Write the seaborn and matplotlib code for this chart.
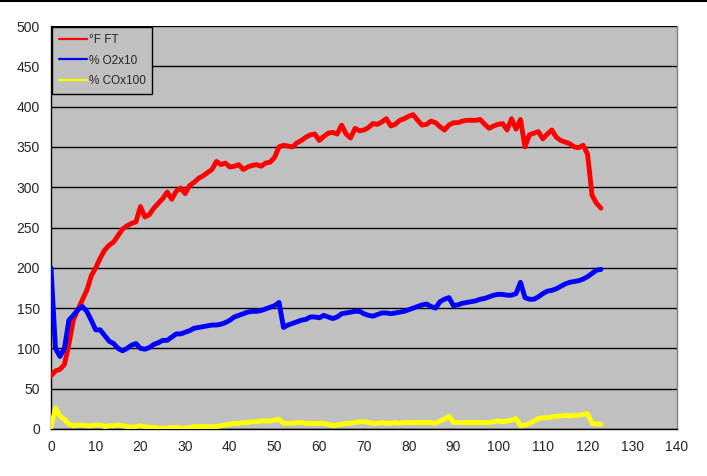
import numpy as np
import pandas as pd
import matplotlib
matplotlib.use("Agg")
import matplotlib.pyplot as plt
from matplotlib.lines import Line2D
import seaborn as sns

# minutes
minutes = list(range(0, 124))

# flue temperature, deg F
temp_f = [66, 72, 74, 80, 105, 135, 148, 160, 172, 190,
          200, 212, 222, 228, 232, 240, 248, 252, 255, 257,
          276, 263, 266, 274, 280, 286, 294, 285, 295, 299,
          292, 302, 306, 311, 314, 318, 322, 332, 328, 330,
          325, 326, 328, 322, 325, 327, 328, 326, 330, 331,
          337, 350, 352, 351, 350, 355, 358, 362, 365, 366,
          358, 363, 367, 368, 366, 377, 366, 361, 373, 370,
          371, 374, 379, 378, 381, 385, 376, 378, 383, 385,
          388, 390, 383, 377, 378, 382, 380, 375, 371, 377,
          380, 380, 382, 383, 383, 383, 384, 378, 373, 376,
          378, 379, 371, 385, 372, 384, 350, 365, 367, 369,
          360, 366, 371, 362, 358, 356, 354, 350, 349, 352,
          341, 290, 280, 274]

# oxygen % x10
o2_x10 = [200, 100, 90, 100, 135, 141, 148, 152, 146, 135,
          123, 123, 116, 109, 106, 100, 97, 100, 104, 106,
          100, 99, 101, 105, 107, 110, 110, 114, 118, 118,
          120, 122, 125, 126, 127, 128, 129, 129, 130, 132,
          135, 139, 141, 143, 145, 146, 146, 147, 149, 151,
          153, 157, 126, 129, 131, 133, 135, 136, 139, 139,
          138, 141, 139, 137, 139, 143, 144, 145, 146, 146,
          143, 141, 140, 142, 144, 144, 143, 144, 145, 146,
          148, 150, 152, 154, 155, 152, 150, 158, 161, 163,
          153, 154, 156, 157, 158, 159, 161, 162, 164, 166,
          167, 167, 166, 166, 168, 182, 163, 161, 161, 164,
          168, 171, 172, 174, 177, 180, 182, 183, 184, 186,
          189, 193, 197, 198]

# CO % x100
co_x100 = [2, 26, 16, 12, 6, 4, 5, 5, 4, 4,
           5, 5, 3, 4, 4, 5, 4, 3, 2, 3,
           4, 3, 2, 2, 1, 1, 1, 2, 2, 1,
           1, 2, 3, 3, 3, 3, 3, 3, 4, 5,
           6, 7, 7, 8, 8, 9, 9, 10, 10, 10,
           11, 12, 7, 7, 7, 8, 8, 7, 7, 7,
           7, 7, 6, 4, 5, 6, 7, 7, 8, 9,
           9, 8, 7, 7, 8, 7, 7, 8, 7, 8,
           8, 8, 8, 8, 8, 8, 7, 10, 12, 16,
           8, 8, 8, 8, 8, 8, 8, 8, 8, 9,
           10, 9, 10, 11, 13, 4, 5, 7, 10, 13,
           14, 14, 15, 16, 16, 17, 16, 17, 17, 18,
           19, 7, 6, 6]

series_names = ["°F FT", "% O2x10", "% COx100"]
colors = ["#FF0000", "#0000FF", "#FFFF00"]

df = pd.concat([
    pd.DataFrame({"min": minutes, "value": temp_f, "series": series_names[0]}),
    pd.DataFrame({"min": minutes, "value": o2_x10, "series": series_names[1]}),
    pd.DataFrame({"min": minutes, "value": co_x100, "series": series_names[2]}),
])

sns.set_style("white", {"axes.facecolor": "#C0C0C0"})
plt.rcParams["font.family"] = ["Liberation Sans", "DejaVu Sans"]

fig = plt.figure(figsize=(7.07, 4.76), dpi=100)
ax = fig.add_axes([51 / 707, 1 - 429 / 476, 626 / 707, 403 / 476])

sns.lineplot(data=df, x="min", y="value", hue="series", hue_order=series_names,
             palette=colors, linewidth=3.5, legend=False, ax=ax, zorder=3)

ax.set_xlim(0, 140)
ax.set_ylim(0, 500)
ax.set_xticks(range(0, 141, 10))
ax.set_yticks(range(0, 501, 50))
ax.tick_params(axis="both", direction="out", length=5, width=1, color="black",
               labelsize=10, pad=3)
ax.yaxis.grid(True, color="black", linewidth=1)
ax.set_axisbelow(True)
ax.set_xlabel("")
ax.set_ylabel("")
for side in ["left", "bottom"]:
    ax.spines[side].set_color("black")
    ax.spines[side].set_linewidth(1)
ax.spines["top"].set_visible(False)
ax.spines["right"].set_color("#808080")
ax.spines["right"].set_linewidth(1)

handles = [Line2D([0], [0], color=c, linewidth=1.6) for c in colors]
leg = ax.legend(handles, series_names, loc="upper left", bbox_to_anchor=(0.0, 1.0),
                frameon=True, fancybox=False, framealpha=1, edgecolor="black",
                fontsize=8.5, handlelength=2.4, handletextpad=0.15,
                labelspacing=0.75, borderpad=0.55, borderaxespad=0.1)
leg.get_frame().set_linewidth(1)

# border line at top of image
fig.add_artist(Line2D([0, 1], [0.998, 0.998], color="black", linewidth=1.5,
                      transform=fig.transFigure))

fig.savefig("out.png", dpi=100)
